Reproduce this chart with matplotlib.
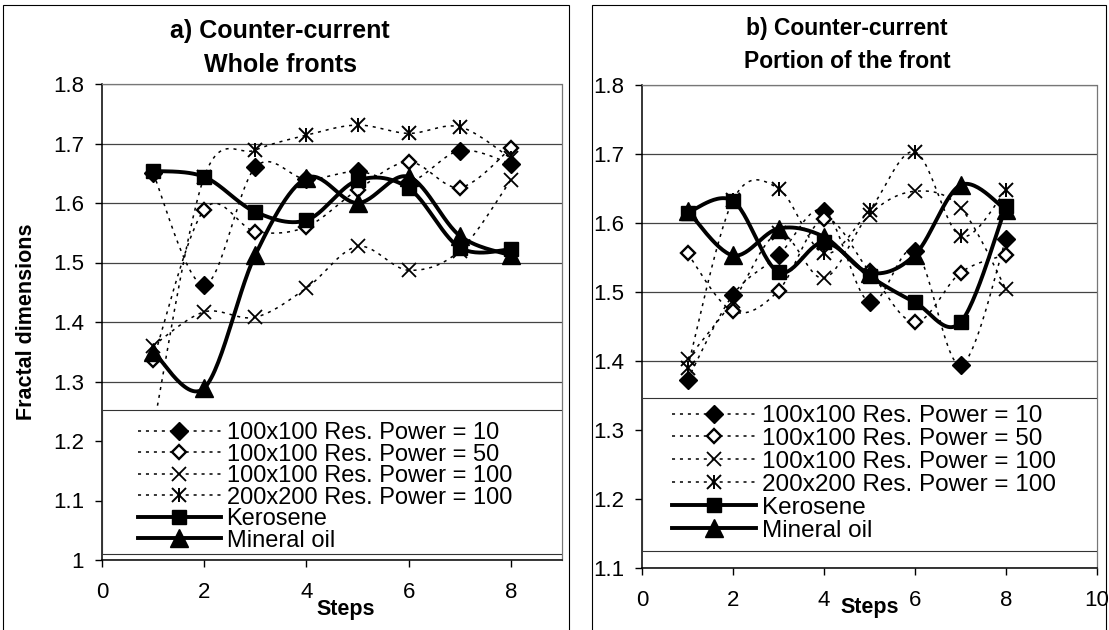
import numpy as np
import matplotlib
matplotlib.use("Agg")
import matplotlib.pyplot as plt
from matplotlib.lines import Line2D
from matplotlib.patches import Rectangle
from matplotlib.legend_handler import HandlerTuple

plt.rcParams['font.family'] = ['Liberation Sans', 'DejaVu Sans']

steps = [1, 2, 3, 4, 5, 6, 7, 8]
series_labels = ["100x100 Res. Power = 10", "100x100 Res. Power = 50",
                 "100x100 Res. Power = 100", "200x200 Res. Power = 100",
                 "Kerosene", "Mineral oil"]

# a) whole fronts
a_p10 = [1.650, 1.462, 1.660, 1.640, 1.653, 1.635, 1.688, 1.666]
a_p50 = [1.336, 1.589, 1.552, 1.560, 1.622, 1.669, 1.626, 1.692]
a_p100 = [1.360, 1.417, 1.408, 1.457, 1.527, 1.487, 1.520, 1.639]
a_200 = [1.220, 1.644, 1.689, 1.714, 1.731, 1.717, 1.728, 1.675]
a_kero = [1.654, 1.644, 1.585, 1.571, 1.638, 1.625, 1.525, 1.522]
a_oil = [1.350, 1.289, 1.513, 1.642, 1.600, 1.644, 1.545, 1.512]

# b) portion of the front
b_p10 = [1.373, 1.496, 1.553, 1.618, 1.485, 1.560, 1.394, 1.577]
b_p50 = [1.556, 1.472, 1.502, 1.606, 1.530, 1.456, 1.528, 1.554]
b_p100 = [1.403, 1.487, 1.585, 1.520, 1.612, 1.646, 1.622, 1.504]
b_200 = [1.390, 1.633, 1.650, 1.556, 1.619, 1.703, 1.581, 1.648]
b_kero = [1.615, 1.632, 1.529, 1.572, 1.523, 1.485, 1.456, 1.624]
b_oil = [1.618, 1.553, 1.592, 1.580, 1.528, 1.554, 1.655, 1.619]


def smooth(x, y, n=30):
    """Smoothed line through the points: cubic Bezier segments whose
    control points follow Catmull-Rom tangents (spreadsheet-style)."""
    P = np.column_stack([np.asarray(x, float), np.asarray(y, float)])
    t = np.linspace(0, 1, n)[1:, None]
    out = [P[0]]
    for i in range(len(P) - 1):
        p0 = P[i - 1] if i > 0 else P[i]
        p1, p2 = P[i], P[i + 1]
        p3 = P[i + 2] if i + 2 < len(P) else P[i + 1]
        c1 = p1 + (p2 - p0) / 6.0
        c2 = p2 - (p3 - p1) / 6.0
        seg = ((1 - t) ** 3) * p1 + 3 * (1 - t) ** 2 * t * c1 \
            + 3 * (1 - t) * t ** 2 * c2 + t ** 3 * p2
        out.extend(seg)
    out = np.array(out)
    return out[:, 0], out[:, 1]


DOT = (0, (2.0, 3.2))
thin = dict(color='black', lw=1.1, ls=DOT)
thick = dict(color='black', lw=2.8, ls='-')

styles = [
    dict(marker='D', ms=9, mfc='black', mec='black'),
    dict(marker='D', ms=7.5, mfc='white', mec='black', mew=1.7),
    dict(marker='x', ms=10, mec='black', mew=1.3),
    dict(marker='x', ms=10, mec='black', mew=1.4),
    dict(marker='s', ms=10, mfc='black', mec='black'),
    dict(marker='^', ms=13, mfc='black', mec='black'),
]
bar_style = dict(ls='none', marker='|', ms=10, mec='black', mew=1.4)


def draw_panel(ax, data, xmax, ymin, xticks, leg_box, leg_anchor, leg_fs, leg_handlelen, leg_sp):
    handles = []
    for k, vals in enumerate(data):
        ls = thick if k >= 4 else thin
        xs, ys = smooth(steps, vals)
        ax.plot(xs, ys, zorder=2, **ls)
        ax.plot(steps, vals, ls='none', zorder=3, **styles[k])
        h = Line2D([], [], **ls, **styles[k])
        if k == 3:
            ax.plot(steps, vals, zorder=3, **bar_style)
            h = (h, Line2D([], [], **bar_style))
        handles.append(h)

    ax.set_xlim(0, xmax)
    ax.set_ylim(ymin, 1.8)
    ax.set_xticks(xticks)
    ax.set_xticklabels([str(v) for v in xticks])
    yt = np.round(np.arange(ymin, 1.8001, 0.1), 1)
    ax.set_yticks(yt)
    ax.set_yticklabels(['1' if v == 1.0 else f'{v:.1f}' for v in yt])
    ax.yaxis.grid(True, color='#444444', lw=0.9)
    ax.set_axisbelow(True)
    for s in ('left', 'bottom'):
        ax.spines[s].set_color('black')
        ax.spines[s].set_linewidth(1.1)
    for s in ('top', 'right'):
        ax.spines[s].set_color('#777777')
        ax.spines[s].set_linewidth(0.9)
        ax.spines[s].set_linestyle((0, (1, 1)))
    ax.tick_params(direction='out', length=5, width=1, labelsize=16, color='black')
    ax.tick_params(axis='y', pad=8)
    ax.tick_params(axis='x', pad=11)

    yb, yt_ = leg_box
    ax.add_patch(Rectangle((0, yb), 1, yt_ - yb, transform=ax.get_yaxis_transform(),
                           facecolor='white', edgecolor='#333333', lw=0.8, zorder=4))
    leg = ax.legend(handles, series_labels, loc='upper left', bbox_to_anchor=leg_anchor,
                    frameon=False, fontsize=leg_fs, handlelength=leg_handlelen,
                    handletextpad=0.25, labelspacing=leg_sp, borderaxespad=0, borderpad=0,
                    numpoints=1, handler_map={tuple: HandlerTuple(ndivide=1, pad=0)})
    leg.set_zorder(5)
    return ax


fig = plt.figure(figsize=(11.09, 6.30), dpi=100)
W, H = 1109.0, 630.0

# panel frames
fig.patches.append(Rectangle((3 / W, -0.05), 566 / W, 1 - 5 / H + 0.05, transform=fig.transFigure,
                             fill=False, edgecolor='black', lw=0.8))
fig.patches.append(Rectangle((592 / W, -0.05), 514 / W, 1 - 5 / H + 0.05, transform=fig.transFigure,
                             fill=False, edgecolor='black', lw=0.8))

axa = fig.add_axes([102 / W, (H - 560) / H, 460 / W, 476 / H])
draw_panel(axa, [a_p10, a_p50, a_p100, a_200, a_kero, a_oil], 9, 1.0, [0, 2, 4, 6, 8],
           (1.010, 1.252), ((138 - 102) / 460, (560 - 422) / 476), 17, 3.5, -0.02)
axa.set_ylabel('Fractal dimensions', fontsize=15.5, fontweight='bold', va='center')
axa.yaxis.set_label_coords((27 - 102) / 460, 0.5)
axa.set_xlabel('Steps', fontsize=15.5, fontweight='bold', va='center')
axa.xaxis.set_label_coords((346 - 102) / 460, (560 - 610) / 476)

axb = fig.add_axes([642 / W, (H - 568) / H, 455 / W, 483 / H])
draw_panel(axb, [b_p10, b_p50, b_p100, b_200, b_kero, b_oil], 10, 1.1, [0, 2, 4, 6, 8, 10],
           (1.124, 1.346), ((672 - 642) / 455, (568 - 405) / 483), 17.5, 3.45, 0.04)
axb.set_xlabel('Steps', fontsize=15.5, fontweight='bold', va='center')
axb.xaxis.set_label_coords((870 - 642) / 455, (568 - 607) / 483)

fig.text(280 / W, 1 - 31 / H, 'a) Counter-current', ha='center', va='center',
         fontsize=18, fontweight='bold')
fig.text(280 / W, 1 - 65 / H, 'Whole fronts', ha='center', va='center',
         fontsize=18, fontweight='bold')
fig.text(847 / W, 1 - 28 / H, 'b) Counter-current', ha='center', va='center',
         fontsize=16.5, fontweight='bold')
fig.text(847 / W, 1 - 62 / H, 'Portion of the front', ha='center', va='center',
         fontsize=16.5, fontweight='bold')

fig.savefig('out.png', dpi=100, facecolor='white')
